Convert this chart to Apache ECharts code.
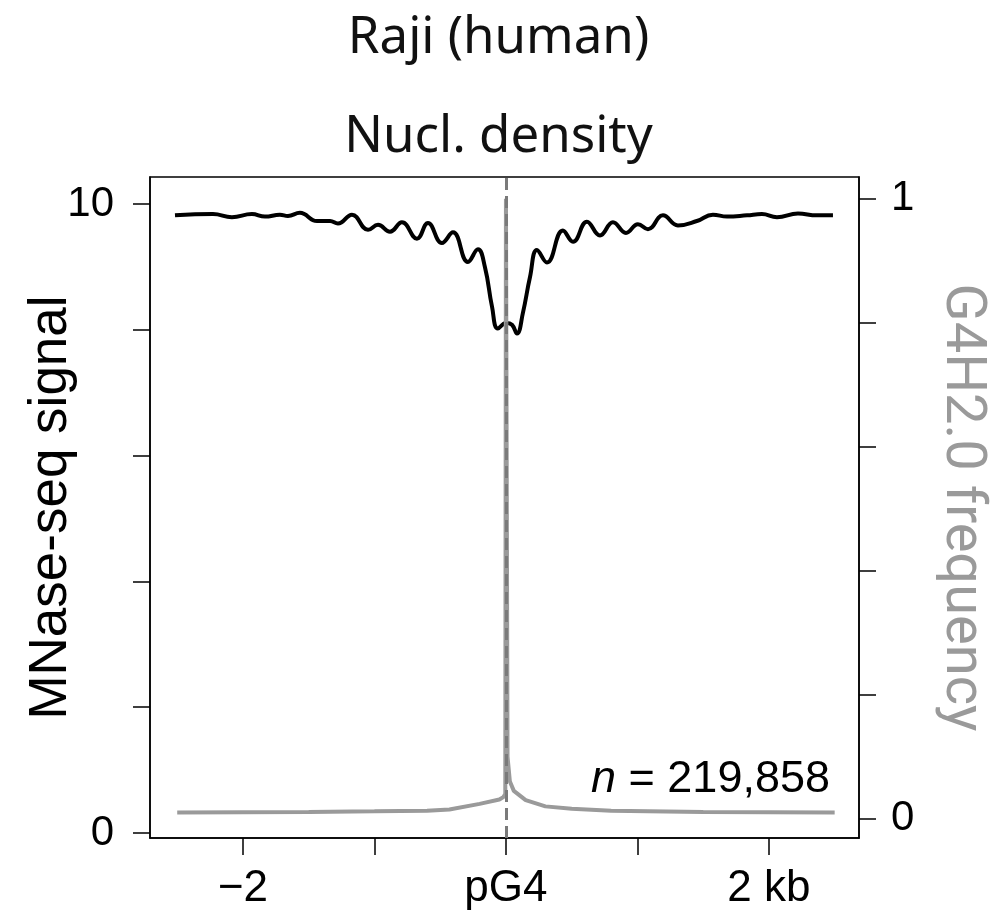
<!DOCTYPE html>
<html>
<head>
<meta charset="utf-8">
<script src="https://cdn.jsdelivr.net/npm/echarts@6/dist/echarts.min.js"></script>
<style>
  html, body { margin: 0; padding: 0; background: #fff; }
  #chart { width: 997px; height: 920px; }
</style>
</head>
<body>
<div id="chart"></div>
<script>
// position (kb) vs MNase-seq signal
const nuclPos = [-2.517, -2.228, -2.084, -1.932, -1.833, -1.719, -1.658, -1.567, -1.437, -1.338, -1.278, -1.171,
    -1.049, -0.973, -0.882, -0.791, -0.677, -0.593, -0.487, -0.403, -0.289, -0.213, -0.160, -0.106, -0.061, 0,
    0.046, 0.084, 0.129, 0.183, 0.236, 0.312, 0.433, 0.510, 0.616, 0.715, 0.814, 0.913, 1.004, 1.080, 1.194,
    1.308, 1.452, 1.574, 1.681, 1.833, 1.947, 2.061, 2.221, 2.365, 2.487];
const nuclSignal = [9.82, 9.84, 9.79, 9.84, 9.80, 9.83, 9.81, 9.86, 9.73, 9.73, 9.69, 9.83,
    9.59, 9.67, 9.56, 9.71, 9.45, 9.70, 9.38, 9.55, 9.08, 9.28, 9.00, 8.37, 8.02, 8.11,
    8.08, 7.94, 8.27, 8.84, 9.27, 9.07, 9.58, 9.40, 9.72, 9.50, 9.71, 9.54, 9.68, 9.60, 9.82,
    9.66, 9.73, 9.83, 9.80, 9.82, 9.84, 9.79, 9.85, 9.82, 9.82];

// position (kb) vs G4H2.0 frequency
const g4Pos = [-2.5, -1.5, -1.0, -0.6, -0.43, -0.2, -0.05, -0.02, -0.005, 0, 0.012, 0.03, 0.06, 0.15, 0.3, 0.5, 0.8, 1.5, 2.5];
const g4Freq = [0.010, 0.011, 0.012, 0.013, 0.015, 0.024, 0.031, 0.035, 0.04, 1.0, 0.10, 0.06, 0.045, 0.03, 0.02, 0.016, 0.013, 0.011, 0.010];

const xTicks = [-2, -1, 0, 1, 2];
const xLabels = [-2, 0, 2];
const xLabelText = { '-2': '\u22122', '0': 'pG4', '2': '2 kb' };
const leftTicks = [0, 2, 4, 6, 8, 10];
const leftLabels = [0, 10];
const rightTicks = [0, 0.2, 0.4, 0.6, 0.8, 1];
const rightLabels = [0, 1];

const axisFont = '"Liberation Sans", Arial, sans-serif';
const titleFont = '"Noto Sans", Roboto, sans-serif';

const chart = echarts.init(document.getElementById('chart'));

const tickStyle = { show: true, inside: false, length: 17, lineStyle: { color: '#000', width: 1.5 } };
const lineStyle = { show: true, onZero: false, lineStyle: { color: '#000', width: 1.5 } };

chart.setOption({
    animation: false,
    title: [
        { text: 'Raji (human)', left: 'center', top: 8,
          textStyle: { fontFamily: titleFont, fontWeight: 'normal', fontSize: 51, color: '#111' } },
        { text: 'Nucl. density', left: 'center', top: 107,
          textStyle: { fontFamily: titleFont, fontWeight: 'normal', fontSize: 51, color: '#111' } }
    ],
    grid: { left: 150, right: 138, top: 177, bottom: 82, show: true, borderColor: '#000', borderWidth: 1.5, backgroundColor: 'transparent' },
    xAxis: {
        type: 'value', min: -2.707, max: 2.685,
        axisLine: lineStyle,
        axisTick: Object.assign({ customValues: xTicks }, tickStyle),
        axisLabel: {
            customValues: xLabels, margin: 29,
            fontFamily: axisFont, fontSize: 44, color: '#000',
            formatter: v => xLabelText[String(v)]
        },
        splitLine: { show: false }
    },
    yAxis: [
        {
            type: 'value', min: -0.08, max: 10.43, position: 'left',
            name: 'MNase-seq signal', nameLocation: 'middle', nameGap: 72, nameMoveOverlap: false,
            nameTextStyle: { fontFamily: axisFont, fontSize: 53, color: '#000' },
            axisLine: lineStyle,
            axisTick: Object.assign({ customValues: leftTicks }, tickStyle),
            axisLabel: { customValues: leftLabels, margin: 36, fontFamily: axisFont, fontSize: 42, color: '#000' },
            splitLine: { show: false }
        },
        {
            type: 'value', min: -0.031, max: 1.035, position: 'right',
            name: 'G4H2.0 frequency', nameLocation: 'middle', nameGap: 74, nameRotate: -90, nameMoveOverlap: false,
            nameTextStyle: { fontFamily: 'Roboto, sans-serif', fontSize: 56, color: '#9a9a9a' },
            axisLine: lineStyle,
            axisTick: Object.assign({ customValues: rightTicks }, tickStyle),
            axisLabel: { customValues: rightLabels, margin: 32, fontFamily: axisFont, fontSize: 42, color: '#000' },
            splitLine: { show: false }
        }
    ],
    graphic: [{
        type: 'text', right: 167, top: 757,
        style: {
            text: '{i|n} = 219,858',
            rich: { i: { fontStyle: 'italic', fontFamily: axisFont, fontSize: 45, fill: '#000' } },
            font: '45px ' + axisFont, fill: '#000'
        }
    }],
    series: [
        {
            type: 'line', yAxisIndex: 0, smooth: 0.45, showSymbol: false,
            data: nuclPos.map((x, i) => [x, nuclSignal[i]]),
            lineStyle: { color: '#000', width: 4 }
        },
        {
            type: 'line', yAxisIndex: 1, smooth: false, showSymbol: false,
            data: g4Pos.map((x, i) => [x, g4Freq[i]]),
            lineStyle: { color: '#9a9a9a', width: 4 },
            markLine: {
                symbol: 'none', silent: true, label: { show: false },
                data: [{ xAxis: 0 }],
                lineStyle: { color: '#7a7a7a', type: [12, 6], width: 3 }
            }
        }
    ]
});
</script>
</body>
</html>
